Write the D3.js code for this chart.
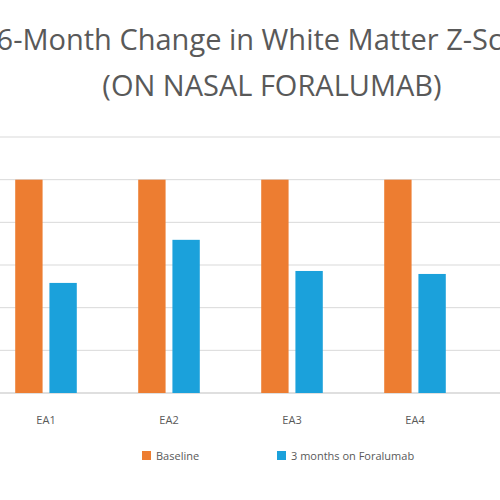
<!DOCTYPE html>
<html><head><meta charset="utf-8">
<script src="https://cdn.jsdelivr.net/npm/d3@7"></script>
<style>body{margin:0;background:#fff}svg{display:block}</style>
</head><body>
<svg id="c" width="500" height="500"></svg>
<script>
const categories = ["EA1","EA2","EA3","EA4"];
const seriesNames = ["Baseline","3 months on Foralumab"];
const baseline = [5,5,5,5];
const threeMonths = [2.58,3.59,2.86,2.79];
const yTicks = [0,1,2,3,4,5,6];
const colors = ["#ED7D31","#1BA1DB"];

const svg = d3.select("#c");
const x = d3.scaleBand().domain(categories).range([-15.5,476.5]).padding(0);
const x1 = d3.scaleBand().domain(seriesNames).range([29,94]).paddingInner(0.2).paddingOuter(0.05);
const y = d3.scaleLinear().domain([0,6]).range([393,137]);

svg.append("g").selectAll("line").data(yTicks).join("line")
  .attr("x1",0).attr("x2",500).attr("y1",d=>y(d)).attr("y2",d=>y(d))
  .attr("stroke",d=>d===0?"#bfbfbf":"#d9d9d9").attr("stroke-width",1);

const data = [baseline, threeMonths];
categories.forEach((c,i)=>{
  seriesNames.forEach((s,j)=>{
    svg.append("rect").attr("x",x(c)+x1(s)).attr("width",x1.bandwidth())
      .attr("y",y(data[j][i])).attr("height",y(0)-y(data[j][i])).attr("fill",colors[j]);
  });
  svg.append("text").attr("x",x(c)+x.bandwidth()/2).attr("y",424).attr("text-anchor","middle")
    .attr("font-family","Open Sans, sans-serif").attr("font-size",11).attr("fill","#595959").text(c);
});

svg.append("text").attr("x",272).attr("y",50).attr("text-anchor","middle")
  .attr("font-family","Open Sans, sans-serif").attr("font-size",29).attr("fill","#595959")
  .text("6-Month Change in White Matter Z-Score");
svg.append("text").attr("x",272).attr("y",96).attr("text-anchor","middle")
  .attr("font-family","Open Sans, sans-serif").attr("font-size",29).attr("fill","#595959")
  .text("(ON NASAL FORALUMAB)");

const lx=[142,277];
seriesNames.forEach((s,j)=>{
  svg.append("rect").attr("x",lx[j]).attr("y",451).attr("width",9).attr("height",9).attr("fill",colors[j]);
  svg.append("text").attr("x",lx[j]+14).attr("y",460).attr("font-family","Open Sans, sans-serif")
    .attr("font-size",11).attr("fill","#595959").text(s);
});
</script>
</body></html>
